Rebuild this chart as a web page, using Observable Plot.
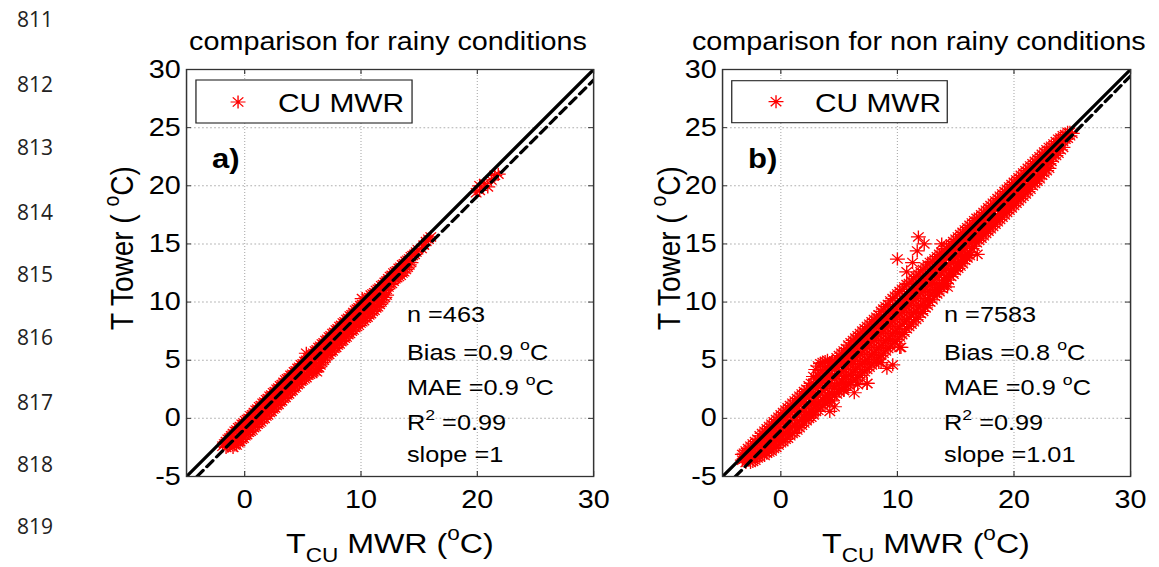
<!DOCTYPE html>
<html><head><meta charset="utf-8">
<script src="https://cdn.jsdelivr.net/npm/d3@7"></script>
<script src="https://cdn.jsdelivr.net/npm/@observablehq/plot@0.6"></script>
<style>
html,body{margin:0;padding:0;background:#fff;}
#page{position:relative;width:1159px;height:567px;overflow:hidden;background:#fff;}
#fig{position:absolute;left:0;top:0;width:1008px;height:567px;transform:scaleX(1.15);transform-origin:0 0;}
#fig > div{position:absolute;top:0;}
#overlay{position:absolute;left:0;top:0;}
.ln{position:absolute;left:17px;font-family:"Open Sans",sans-serif;font-size:21px;color:#222;line-height:1;}
</style></head><body>
<div id="page"><div id="fig"><div id="pa"></div><div id="pb"></div></div></div>
<script>
// ---------- data ----------
const lineNumbers = ["811","812","813","814","815","816","817","818","819"];
const xTicks = [0, 10, 20, 30];
const yTicks = [-5, 0, 5, 10, 15, 20, 25, 30];
const xGrid = [0, 10, 20];
const yGrid = [0, 5, 10, 15, 20, 25];

// each row: T_CU MWR value, then T Tower values read at that x  (rainy, panel a)
const rainyCols = [
 [-1.9, -2.4],[-1.6, -2.0, -2.5],[-1.3, -1.7, -2.3],[-1.0, -1.3, -1.9, -2.5],
 [-0.7, -1.0, -1.6, -2.3],[-0.4, -0.7, -1.3, -2.0],[-0.1, -0.4, -1.0, -1.7],
 [0.2, -0.1, -0.7, -1.4],[0.5, 0.2, -0.4, -1.1],[0.8, 0.5, -0.1, -0.8],
 [1.1, 0.8, 0.2, -0.5],[1.4, 1.1, 0.5, -0.3],[1.7, 1.4, 0.8, 0.0],
 [2.0, 1.7, 1.1, 0.3],[2.3, 2.0, 1.4, 0.6],[2.6, 2.3, 1.7, 0.9],
 [2.9, 2.6, 2.0, 1.2],[3.2, 2.9, 2.3, 1.5],[3.5, 3.3, 2.6, 1.8],
 [3.8, 3.5, 2.9, 2.1],[4.1, 3.8, 3.2, 2.4],[4.4, 4.1, 3.5, 2.7],
 [4.7, 4.4, 3.8, 3.0],[5.0, 4.7, 4.1, 3.3],[5.3, 5.6, 5.0, 4.3, 3.5],
 [5.6, 5.3, 4.6, 3.8],[5.9, 5.6, 4.8, 4.0],[6.2, 5.9, 5.1, 4.3, 4.0],
 [6.5, 6.2, 5.4, 4.6],[6.8, 6.5, 5.8, 5.0],[7.1, 6.8, 6.1, 5.4],
 [7.4, 7.1, 6.4, 5.7],[7.7, 7.4, 6.7, 6.0],[8.0, 7.7, 7.0, 6.3],
 [8.3, 8.0, 7.3, 6.6],[8.6, 8.3, 7.6, 6.9],[8.9, 8.6, 7.9, 7.2],
 [9.2, 8.9, 8.2, 7.5],[9.5, 9.3, 8.5, 7.8],[9.8, 9.5, 8.8, 8.0],
 [10.1, 10.3, 9.8, 9.1, 8.3],[10.4, 10.1, 9.4, 8.6],[10.7, 10.4, 9.7, 8.9],
 [11.0, 10.7, 10.0, 9.2],[11.3, 11.0, 10.2, 9.5],[11.6, 11.2, 10.5, 9.8],
 [11.9, 11.5, 10.8, 10.2],[12.2, 11.8, 11.1, 10.6],[12.5, 12.2, 11.5],
 [12.8, 12.5, 11.8],[13.1, 12.7, 12.1],[13.4, 13.0, 12.3],[13.7, 13.3, 12.6],
 [14.0, 13.6, 13.0],[14.3, 13.9, 13.4],[14.6, 14.1],[14.9, 14.5],[15.2, 14.6],
 [15.6, 15.2],[16.0, 15.6],
 [19.9, 19.4],[20.2, 19.6, 20.0],[20.6, 20.2],[20.9, 19.9],[21.2, 20.5],[21.5, 20.9],[21.8, 21.0]
];
const rainyColsMore = [
 [-1.75, -2.2],[-1.45, -1.8, -2.4],[-1.15, -1.5, -2.1],[-0.85, -1.1, -1.8, -2.3],
 [-0.55, -0.8, -1.5, -2.1],[-0.25, -0.5, -1.1, -1.8],[0.05, -0.2, -0.8, -1.5],
 [0.35, 0.0, -0.6, -1.2],[0.65, 0.3, -0.3, -1.0],[0.95, 0.7, 0.0, -0.7],
 [1.25, 1.0, 0.3, -0.4],[1.55, 1.3, 0.6, -0.1],[1.85, 1.6, 0.9, 0.2],
 [2.15, 1.9, 1.2, 0.5],[2.45, 2.2, 1.5, 0.8],[2.75, 2.5, 1.8, 1.1],
 [3.05, 2.8, 2.1, 1.4],[3.35, 3.1, 2.4, 1.7],[3.65, 3.4, 2.7, 2.0],
 [3.95, 3.7, 3.0, 2.3],[4.25, 4.0, 3.3, 2.6],[4.55, 4.3, 3.6, 2.9],
 [4.85, 4.6, 3.9, 3.2],[5.15, 4.9, 4.2, 3.4],[5.45, 5.2, 4.5, 3.7],
 [5.75, 5.5, 4.7, 3.9],[6.05, 5.8, 5.0, 4.1],[6.35, 6.1, 5.2, 4.4],
 [6.65, 6.4, 5.6, 4.8],[6.95, 6.7, 5.9, 5.2],[7.25, 7.0, 6.2, 5.5],
 [7.55, 7.3, 6.5, 5.8],[7.85, 7.6, 6.8, 6.1],[8.15, 7.9, 7.1, 6.4],
 [8.45, 8.2, 7.4, 6.7],[8.75, 8.5, 7.7, 7.0],[9.05, 8.8, 8.0, 7.3],
 [9.35, 9.1, 8.3, 7.6],[9.65, 9.4, 8.6, 7.9],[9.95, 9.7, 9.0, 8.2],
 [10.25, 10.0, 9.2, 8.4],[10.55, 10.3, 9.5, 8.7],[10.85, 10.6, 9.8, 9.0],
 [11.15, 10.8, 10.1, 9.3],[11.45, 11.1, 10.4, 9.6],[11.75, 11.4, 10.6, 10.0],
 [12.05, 11.7, 11.0, 10.4],[12.35, 12.0, 11.3],[12.65, 12.3, 11.6],
 [12.95, 12.6, 12.0],[13.25, 12.9, 12.2],[13.55, 13.2, 12.5],[13.85, 13.5, 12.8],
 [14.15, 13.7, 13.2],[14.45, 14.0],[14.75, 14.3],[15.4, 14.9],[15.8, 15.4]
];

// non rainy, panel b
const nonRainyCols = [
 [-3.3, -3.1, -3.6],[-3.0, -2.8, -3.3, -3.8],[-2.6, -2.4, -2.9, -3.4, -3.8],
 [-2.2, -2.0, -2.5, -3.1, -3.6],[-1.8, -1.5, -2.1, -2.7, -3.3],
 [-1.4, -1.1, -1.7, -2.3, -2.9, -3.2],[-1.0, -0.7, -1.3, -1.9, -2.5, -2.9],
 [-0.6, -0.3, -0.9, -1.5, -2.1, -2.6],[-0.2, 0.1, -0.5, -1.1, -1.7, -2.3],
 [0.2, 0.5, -0.1, -0.8, -1.4, -2.0],[0.6, 0.9, 0.3, -0.4, -1.1, -1.7],
 [1.0, 1.3, 0.6, -0.1, -0.7, -1.3],[1.4, 1.7, 1.0, 0.3, -0.4, -1.0],
 [1.8, 2.1, 1.4, 0.6, -0.1, -0.6],[2.2, 2.5, 1.8, 1.0, 0.3, -0.2],
 [2.6, 3.0, 2.2, 1.4, 0.6, 0.1],[3.0, 4.2, 3.4, 2.6, 1.8, 1.1, 0.6],
 [3.4, 4.7, 3.9, 3.0, 2.2, 1.5, 0.9],[3.8, 4.9, 4.2, 3.4, 2.6, 1.8, 1.3],
 [4.2, 4.8, 4.5, 3.8, 3.0, 2.2, 1.6],[4.6, 4.9, 4.2, 3.4, 2.6, 1.9, 1.0],
 [5.0, 5.4, 4.6, 3.8, 3.0, 2.3],[5.4, 5.8, 5.0, 4.2, 3.4, 2.6, 2.4],
 [5.8, 6.3, 5.4, 4.6, 3.7, 2.9],[6.2, 6.7, 5.8, 4.9, 4.0, 3.2],
 [6.6, 7.1, 6.2, 5.3, 4.4, 3.5, 2.9],[7.0, 7.5, 6.6, 5.7, 4.7, 3.9],
 [7.4, 7.9, 7.0, 6.1, 5.1, 4.2, 3.0],[7.8, 8.3, 7.4, 6.5, 5.5, 4.6],
 [8.2, 8.7, 7.8, 6.9, 5.9, 5.0],[8.6, 9.2, 8.2, 7.3, 6.3, 5.4, 4.8],
 [9.0, 9.6, 8.6, 7.7, 6.7, 5.8],[9.4, 10.1, 9.0, 8.1, 7.1, 6.2],
 [9.8, 10.5, 9.4, 8.5, 7.5, 6.6],[10.2, 10.9, 9.8, 8.9, 7.9, 7.0, 6.1],
 [10.6, 11.3, 10.2, 9.3, 8.3, 7.4],[11.0, 11.6, 10.6, 9.7, 8.7, 7.9],
 [11.4, 12.0, 11.0, 10.1, 9.1, 8.3],[11.8, 12.4, 11.4, 10.5, 9.5, 8.7],
 [12.2, 12.8, 11.8, 10.9, 9.9, 9.2],[12.6, 13.2, 12.2, 11.3, 10.3, 9.7],
 [13.0, 13.5, 12.6, 11.7, 10.8, 10.2],[13.4, 13.9, 13.0, 12.1, 11.2, 10.7],
 [13.8, 14.3, 13.4, 12.5, 11.6, 11.2],[14.2, 14.6, 13.8, 12.9, 12.1, 11.6],
 [14.6, 15.0, 14.2, 13.4, 12.6, 12.2],[15.0, 15.4, 14.6, 13.8, 13.0, 12.7],
 [15.4, 15.8, 15.0, 14.2, 13.5, 13.1],[15.8, 16.2, 15.4, 14.6, 13.9, 13.6],
 [16.2, 16.6, 15.8, 15.0, 14.3, 14.0],[16.6, 17.0, 16.2, 15.4, 14.8],
 [17.0, 17.3, 16.6, 15.8, 15.3],[17.4, 17.7, 17.0, 16.2, 15.7],
 [17.8, 18.1, 17.4, 16.6, 16.1],[18.2, 18.5, 17.8, 17.0, 16.5],
 [18.6, 18.9, 18.2, 17.4, 16.9],[19.0, 19.3, 18.6, 17.8, 17.3],
 [19.4, 19.7, 19.0, 18.2, 17.7],[19.8, 20.1, 19.4, 18.6, 18.1],
 [20.2, 20.5, 19.8, 19.0, 18.5],[20.6, 20.9, 20.2, 19.4, 18.9],
 [21.0, 21.3, 20.6, 19.8, 19.3],[21.4, 21.7, 21.0, 20.2, 19.7],
 [21.8, 22.1, 21.4, 20.6, 20.2],[22.2, 22.5, 21.8, 21.0, 20.6],
 [22.6, 22.9, 22.2, 21.5, 21.1],[23.0, 23.3, 22.6, 21.9, 21.5],
 [23.4, 23.6, 23.0, 22.4],[23.8, 24.0, 23.4, 22.8],[24.2, 24.3, 23.8, 23.3],
 [24.6, 24.6, 24.1],[25.0, 24.5]
];
const nonRainyColsMore = [
 [-3.15, -3.0, -3.5],[-2.8, -2.6, -3.1, -3.6],[-2.4, -2.2, -2.7, -3.2, -3.7],
 [-2.0, -1.8, -2.3, -2.9, -3.4],[-1.6, -1.3, -1.9, -2.5, -3.1],
 [-1.2, -0.9, -1.5, -2.1, -2.7, -3.0],[-0.8, -0.5, -1.1, -1.7, -2.3, -2.8],
 [-0.4, -0.1, -0.7, -1.3, -1.9, -2.5],[0.0, 0.3, -0.3, -0.9, -1.5, -2.1],
 [0.4, 0.7, 0.1, -0.5, -1.2, -1.8],[0.8, 1.1, 0.5, -0.2, -0.9, -1.5],
 [1.2, 1.5, 0.8, 0.1, -0.6, -1.2],[1.6, 1.9, 1.2, 0.5, -0.2, -0.8],
 [2.0, 2.3, 1.6, 0.8, 0.1, -0.4],[2.4, 2.8, 2.0, 1.2, 0.5, 0.0],
 [2.8, 3.6, 3.0, 2.2, 1.4, 0.6, 0.3],[3.2, 4.5, 3.7, 2.8, 2.0, 1.3, 0.7],
 [3.6, 4.8, 4.1, 3.2, 2.4, 1.6, 1.1],[4.0, 5.0, 4.4, 3.6, 2.8, 2.0, 1.4],
 [4.4, 4.9, 4.4, 3.6, 2.8, 2.1, 1.5],[4.8, 5.2, 4.4, 3.6, 2.8, 2.1],
 [5.2, 5.6, 4.8, 4.0, 3.2, 2.5],[5.6, 6.0, 5.2, 4.4, 3.6, 2.8],
 [6.0, 6.5, 5.6, 4.7, 3.8, 3.1],[6.4, 6.9, 6.0, 5.1, 4.2, 3.3],
 [6.8, 7.3, 6.4, 5.5, 4.6, 3.7],[7.2, 7.7, 6.8, 5.9, 4.9, 4.0],
 [7.6, 8.1, 7.2, 6.3, 5.3, 4.4],[8.0, 8.5, 7.6, 6.7, 5.7, 4.8],
 [8.4, 8.9, 8.0, 7.1, 6.1, 5.2],[8.8, 9.4, 8.4, 7.5, 6.5, 5.6],
 [9.2, 9.8, 8.8, 7.9, 6.9, 6.0],[9.6, 10.3, 9.2, 8.3, 7.3, 6.4],
 [10.0, 10.7, 9.6, 8.7, 7.7, 6.8],[10.4, 11.1, 10.0, 9.1, 8.1, 7.2],
 [10.8, 11.5, 10.4, 9.5, 8.5, 7.7],[11.2, 11.8, 10.8, 9.9, 8.9, 8.1],
 [11.6, 12.2, 11.2, 10.3, 9.3, 8.5],[12.0, 12.6, 11.6, 10.7, 9.7, 9.0],
 [12.4, 13.0, 12.0, 11.1, 10.1, 9.5],[12.8, 13.4, 12.4, 11.5, 10.6, 10.0],
 [13.2, 13.7, 12.8, 11.9, 11.0, 10.5],[13.6, 14.1, 13.2, 12.3, 11.4, 10.9],
 [14.0, 14.5, 13.6, 12.7, 11.9, 11.4],[14.4, 14.8, 14.0, 13.2, 12.4, 11.9],
 [14.8, 15.2, 14.4, 13.6, 12.8, 12.4],[15.2, 15.6, 14.8, 14.0, 13.3, 12.9],
 [15.6, 16.0, 15.2, 14.4, 13.7, 13.3],[16.0, 16.4, 15.6, 14.8, 14.1, 13.8],
 [16.4, 16.8, 16.0, 15.2, 14.6],[16.8, 17.2, 16.4, 15.6, 15.1],
 [17.2, 17.5, 16.8, 16.0, 15.5],[17.6, 17.9, 17.2, 16.4, 15.9],
 [18.0, 18.3, 17.6, 16.8, 16.3],[18.4, 18.7, 18.0, 17.2, 16.7],
 [18.8, 19.1, 18.4, 17.6, 17.1],[19.2, 19.5, 18.8, 18.0, 17.5],
 [19.6, 19.9, 19.2, 18.4, 17.9],[20.0, 20.3, 19.6, 18.8, 18.3],
 [20.4, 20.7, 20.0, 19.2, 18.7],[20.8, 21.1, 20.4, 19.6, 19.1],
 [21.2, 21.5, 20.8, 20.0, 19.5],[21.6, 21.9, 21.2, 20.4, 20.0],
 [22.0, 22.3, 21.6, 20.8, 20.4],[22.4, 22.7, 22.0, 21.3, 20.9],
 [22.8, 23.1, 22.4, 21.7, 21.3],[23.2, 23.4, 22.8, 22.1],
 [23.6, 23.8, 23.2, 22.6],[24.0, 24.1, 23.6, 23.1],[24.4, 24.4, 24.0],[24.8, 24.6, 24.3]
];
const nonRainyOutliers = [
 [10.0, 13.7],[11.3, 13.4],[11.7, 14.4],[11.8, 15.6],[12.3, 15.0],[13.8, 15.0],
 [16.85, 14.1],[9.1, 4.3],[8.4, 4.8],[7.4, 3.0],[5.4, 2.4],[14.3, 11.3],
 [10.3, 6.1],[9.6, 4.6],[6.3, 2.2],[4.2, 0.6],[10.8, 12.6]
];

// 1:1 line and fitted (dashed) line end points
const oneToOneX = [-5, 30], oneToOneY = [-5, 30];
const rainyFitX = [-4.1, 30], rainyFitY = [-5, 29.1];
const nonRainyFitX = [-3.9, 30], nonRainyFitY = [-5, 29.45];

const titles = ["comparison for rainy conditions", "comparison for non rainy conditions"];
const panelTags = ["a)", "b)"];
const legendLabel = "CU MWR";
const statsA = [["n =463"], ["Bias =0.9 ", {t:"o", sup:true}, "C"], ["MAE =0.9 ", {t:"o", sup:true}, "C"], ["R", {t:"2", sup:true}, " =0.99"], ["slope =1"]];
const statsB = [["n =7583"], ["Bias =0.8 ", {t:"o", sup:true}, "C"], ["MAE =0.9 ", {t:"o", sup:true}, "C"], ["R", {t:"2", sup:true}, " =0.99"], ["slope =1.01"]];
const xLabel = ["T", {t:"CU", sub:true}, " MWR (", {t:"o", sup:true}, "C)"];
const yLabel = ["T Tower ( ", {t:"o", sup:true}, "C)"];

// ---------- build ----------
const toPts = (cols) => cols.flatMap(([x, ...ys]) => ys.map(y => ({x, y})));
const pair = (xs, ys) => xs.map((x, i) => ({x, y: ys[i]}));
const star8 = {draw(ctx, size) {
  const r = Math.sqrt(size / Math.PI), d = r * Math.SQRT1_2;
  ctx.moveTo(-r, 0); ctx.lineTo(r, 0); ctx.moveTo(0, -r); ctx.lineTo(0, r);
  ctx.moveTo(-d, -d); ctx.lineTo(d, d); ctx.moveTo(-d, d); ctx.lineTo(d, -d);
}};
const FONT = '"Liberation Sans", Arial, Helvetica, sans-serif';

function panel(points, fit, W, mL, mR) {
  const innerW = W - mL - mR, innerH = 567 - 69 - 91;
  return Plot.plot({
    width: W, height: 567, marginLeft: mL, marginRight: mR, marginTop: 69, marginBottom: 91,
    x: {domain: [-5, 30]}, y: {domain: [-5, 30]},
    style: {background: "transparent", fontFamily: FONT, fontSize: "25px", color: "#000", overflow: "visible"},
    marks: [
      Plot.gridX({ticks: xGrid, stroke: "#b0b0b0", strokeOpacity: 1, strokeWidth: 1, strokeDasharray: "1,2"}),
      Plot.gridY({ticks: yGrid, stroke: "#b0b0b0", strokeOpacity: 1, strokeWidth: 1, strokeDasharray: "1.5,2"}),
      Plot.dot(points, {x: "x", y: "y", symbol: star8, r: 6.5, fill: "none", stroke: "#ff0000", strokeWidth: 1.2}),
      Plot.line(pair(oneToOneX, oneToOneY), {x: "x", y: "y", stroke: "#000", strokeWidth: 3, clip: true}),
      Plot.line(fit, {x: "x", y: "y", stroke: "#000", strokeWidth: 3, strokeDasharray: "8,5", clip: true}),
      Plot.ruleX(xTicks, {x: d => d, stroke: "#333", insetTop: innerH - 5}),
      Plot.ruleX(xTicks, {x: d => d, stroke: "#333", insetBottom: innerH - 5}),
      Plot.ruleY(yTicks, {y: d => d, stroke: "#333", insetRight: innerW - 4.3}),
      Plot.ruleY(yTicks, {y: d => d, stroke: "#333", insetLeft: innerW - 4.3}),
      Plot.frame({stroke: "#333", strokeWidth: 1.3}),
      Plot.axisX({ticks: xTicks, tickSize: 0, tickPadding: 14, label: null, fontSize: 25, tickFormat: d => String(d)}),
      Plot.axisY({ticks: yTicks, tickSize: 0, tickPadding: 5, label: null, fontSize: 25, tickFormat: d => String(d)})
    ]
  });
}

const pa = panel(toPts(rainyCols).concat(toPts(rainyColsMore)), pair(rainyFitX, rainyFitY), 460, 81.7, 24.3);
const pb = panel(toPts(nonRainyCols).concat(toPts(nonRainyColsMore), nonRainyOutliers.map(([x, y]) => ({x, y}))),
                 pair(nonRainyFitX, nonRainyFitY), 447, 67.8, 24.4);
const da = document.getElementById("pa"); da.style.left = "80px"; da.appendChild(pa);
const db = document.getElementById("pb"); db.style.left = "560px"; db.appendChild(pb);

// overlay with texts and legends (unscaled coordinates; container is stretched by 1.15)
const ov = d3.select("#fig").append("svg").attr("id", "overlay").attr("width", 1008).attr("height", 567)
  .style("overflow", "visible").attr("font-family", FONT);

function rich(x, y, parts, o) {
  const t = ov.append("text")
    .attr("transform", `translate(${x},${y})${o.rotate ? " rotate(-90)" : ""}`)
    .attr("font-size", o.size).attr("font-weight", o.weight || "normal")
    .attr("text-anchor", o.anchor || "start").attr("fill", "#000");
  let shift = 0;
  for (const p of parts) {
    const s = t.append("tspan");
    let target = 0, fs = o.size, txt = p;
    if (typeof p !== "string") {
      txt = p.t; fs = 0.7 * o.size;
      target = p.sup ? -0.45 * o.size : 0.32 * o.size;
    }
    s.text(txt).attr("font-size", fs);
    if (target - shift !== 0) s.attr("dy", target - shift);
    shift = target;
  }
}

const panelsGeom = [
  {titleX: 337.4, xLabelX: 339, yLabelX: 115.7, tagX: 184.3, statX: 353.9, stats: statsA,
   legend: {x: 170.4, y: 80, w: 187.9, h: 43, sx: 207, sy: 102, tx: 241.7, ty: 112}},
  {titleX: 799, xLabelX: 805.2, yLabelX: 591.5, tagX: 650.4, statX: 820.9, stats: statsB,
   legend: {x: 636.3, y: 80.7, w: 187.4, h: 42, sx: 674.8, sy: 101.7, tx: 708.7, ty: 112}}
];
const statBaselines = [322, 360, 395, 430, 462];

panelsGeom.forEach((g, i) => {
  rich(g.titleX, 50, [titles[i]], {size: 25, anchor: "middle"});
  rich(g.xLabelX, 553, xLabel, {size: 28, anchor: "middle"});
  rich(g.yLabelX, 248, yLabel, {size: 28, anchor: "middle", rotate: true});
  rich(g.tagX, 168, [panelTags[i]], {size: 27, weight: "bold"});
  g.stats.forEach((parts, k) => rich(g.statX, statBaselines[k], parts, {size: 22}));
  const L = g.legend;
  ov.append("rect").attr("x", L.x).attr("y", L.y).attr("width", L.w).attr("height", L.h)
    .attr("fill", "#fff").attr("stroke", "#262626").attr("stroke-width", 1.1);
  const r = 6.5, d = r * Math.SQRT1_2;
  ov.append("path").attr("transform", `translate(${L.sx},${L.sy})`)
    .attr("d", `M${-r},0L${r},0M0,${-r}L0,${r}M${-d},${-d}L${d},${d}M${-d},${d}L${d},${-d}`)
    .attr("stroke", "#ff0000").attr("fill", "none").attr("stroke-width", 1.2);
  rich(L.tx, L.ty, [legendLabel], {size: 26});
});

// line numbers of the source document (not stretched)
const lnCenters = [20, 85, 148, 213, 275, 338, 403, 465, 527];
const page = document.getElementById("page");
lineNumbers.forEach((s, i) => {
  const el = document.createElement("div");
  el.className = "ln"; el.textContent = s; el.style.top = (lnCenters[i] - 11) + "px";
  page.appendChild(el);
});
</script>
</body></html>
